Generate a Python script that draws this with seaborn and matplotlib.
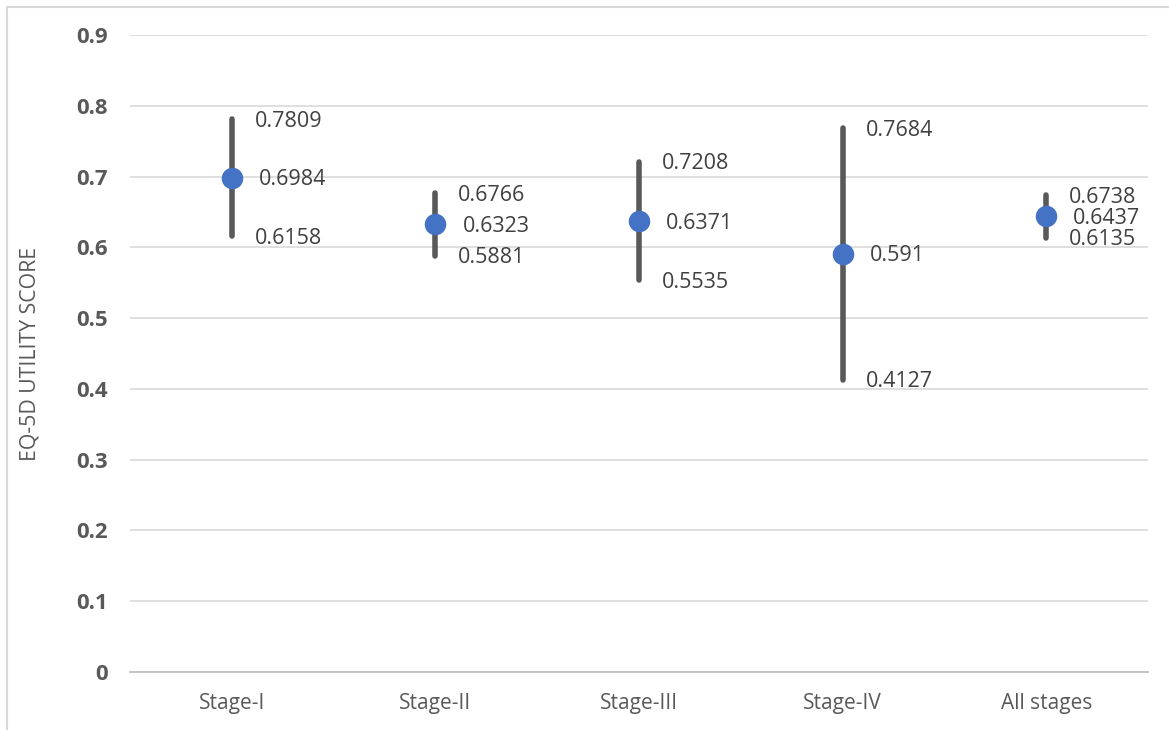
import pandas as pd
import matplotlib.pyplot as plt
import seaborn as sns
from matplotlib.patches import Rectangle

# EQ-5D utility score by cancer stage (mean with lower / upper bound)
stages = ['Stage-I', 'Stage-II', 'Stage-III', 'Stage-IV', 'All stages']
means = [0.6984, 0.6323, 0.6371, 0.591, 0.6437]
lower = [0.6158, 0.5881, 0.5535, 0.4127, 0.6135]
upper = [0.7809, 0.6766, 0.7208, 0.7684, 0.6738]
mean_labels = ['0.6984', '0.6323', '0.6371', '0.591', '0.6437']
lower_labels = ['0.6158', '0.5881', '0.5535', '0.4127', '0.6135']
upper_labels = ['0.7809', '0.6766', '0.7208', '0.7684', '0.6738']
y_ticks = [0, 0.1, 0.2, 0.3, 0.4, 0.5, 0.6, 0.7, 0.8, 0.9]

sns.set_theme(style="white")
plt.rcParams['font.family'] = ['Open Sans', 'DejaVu Sans']

# long table: median of (low, mean, high) is the mean, 100% interval spans low..high
df = pd.DataFrame({
    'Stage': stages * 3,
    'Score': lower + means + upper,
})

fig = plt.figure(figsize=(11.69, 7.30), dpi=100)
ax = fig.add_axes([130 / 1169, 1 - 672 / 730, 1018 / 1169, 637 / 730])

# chart area border (Excel style)
fig.patches.append(Rectangle((7 / 1169, -0.1), 1.2, 1.1 - 7 / 730,
                             transform=fig.transFigure, fill=False,
                             edgecolor='#d9d9d9', linewidth=1.5, zorder=0))

sns.pointplot(
    data=df, x='Stage', y='Score', order=stages,
    estimator='median', errorbar=('pi', 100),
    linestyle='none', marker='o', markersize=15.5,
    color='#4472C4', markeredgewidth=0,
    err_kws={'color': '#595959', 'linewidth': 4.0},
    ax=ax,
)
# keep the dots above the error bars
for coll in ax.collections:
    coll.set_zorder(5)
for line in ax.lines:
    if line.get_marker() == 'o':
        line.set_zorder(5)

for i in range(len(stages)):
    for val, txt, dx in [(upper[i], upper_labels[i], 16.5),
                         (means[i], mean_labels[i], 19.5),
                         (lower[i], lower_labels[i], 16.5)]:
        ax.annotate(txt, (i, val), xytext=(dx, -1.5), textcoords='offset points',
                    ha='left', va='center', fontsize=15.5, color='#404040')

ax.set_ylim(0, 0.9)
ax.set_xlim(-0.5, len(stages) - 0.5)
ax.set_yticks(y_ticks)
ax.set_yticklabels(['0'] + [f'{t:.1f}' for t in y_ticks[1:]],
                   fontsize=16, fontweight='bold', color='#595959')
ax.tick_params(axis='y', length=0, pad=16)
ax.set_xticks(range(len(stages)))
ax.set_xticklabels(stages, fontsize=15, color='#595959')
ax.tick_params(axis='x', length=0, pad=15)

ax.yaxis.grid(True, color='#d9d9d9', linewidth=1.2)
ax.set_axisbelow(True)
for side in ['top', 'right', 'left']:
    ax.spines[side].set_visible(False)
ax.spines['bottom'].set_color('#bfbfbf')
ax.spines['bottom'].set_linewidth(1.3)

ax.set_xlabel('')
ax.set_ylabel('EQ-5D UTILITY SCORE', fontsize=15.3, color='#595959')
ax.yaxis.set_label_coords(-89 / 1018, 0.5)

fig.savefig('out.png', dpi=100)
